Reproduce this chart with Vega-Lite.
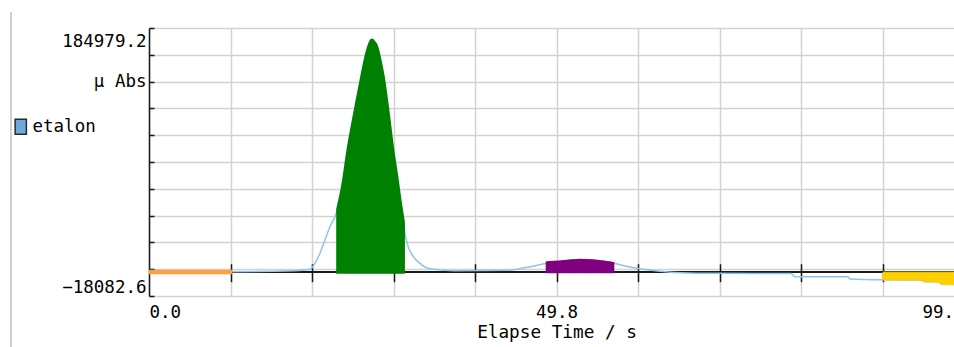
{
  "$schema": "https://vega.github.io/schema/vega-lite/v6.json",
  "autosize": {"type": "none"},
  "padding": {"left": 149, "top": 28, "right": 0, "bottom": 51},
  "width": 805,
  "height": 268,
  "background": "white",
  "config": {"view": {"stroke": null}},
  "datasets": {
    "trace": [
      {"t": 0.00, "v": 326, "series": "etalon"},
      {"t": 9.90, "v": 326, "series": "etalon"},
      {"t": 17.84, "v": 1084, "series": "etalon"},
      {"t": 19.67, "v": 2144, "series": "etalon"},
      {"t": 20.28, "v": 6690, "series": "etalon"},
      {"t": 20.89, "v": 14267, "series": "etalon"},
      {"t": 21.50, "v": 24345, "series": "etalon"},
      {"t": 22.11, "v": 34422, "series": "etalon"},
      {"t": 22.72, "v": 41999, "series": "etalon"},
      {"t": 23.06, "v": 47833, "series": "etalon"},
      {"t": 23.74, "v": 68291, "series": "etalon"},
      {"t": 24.31, "v": 92538, "series": "etalon"},
      {"t": 24.97, "v": 115269, "series": "etalon"},
      {"t": 25.48, "v": 131938, "series": "etalon"},
      {"t": 25.99, "v": 148077, "series": "etalon"},
      {"t": 26.60, "v": 165807, "series": "etalon"},
      {"t": 26.95, "v": 172854, "series": "etalon"},
      {"t": 27.22, "v": 175885, "series": "etalon"},
      {"t": 27.50, "v": 174370, "series": "etalon"},
      {"t": 27.83, "v": 170808, "series": "etalon"},
      {"t": 28.23, "v": 160731, "series": "etalon"},
      {"t": 28.63, "v": 148077, "series": "etalon"},
      {"t": 29.24, "v": 120346, "series": "etalon"},
      {"t": 29.85, "v": 90037, "series": "etalon"},
      {"t": 30.31, "v": 71322, "series": "etalon"},
      {"t": 30.67, "v": 54653, "series": "etalon"},
      {"t": 31.09, "v": 37983, "series": "etalon"},
      {"t": 31.28, "v": 29422, "series": "etalon"},
      {"t": 31.68, "v": 19268, "series": "etalon"},
      {"t": 32.29, "v": 11691, "series": "etalon"},
      {"t": 33.11, "v": 6690, "series": "etalon"},
      {"t": 34.13, "v": 2902, "series": "etalon"},
      {"t": 35.77, "v": 1614, "series": "etalon"},
      {"t": 37.39, "v": 1084, "series": "etalon"},
      {"t": 43.63, "v": 1387, "series": "etalon"},
      {"t": 46.56, "v": 4114, "series": "etalon"},
      {"t": 48.60, "v": 6690, "series": "etalon"},
      {"t": 49.86, "v": 7675, "series": "etalon"},
      {"t": 51.45, "v": 9191, "series": "etalon"},
      {"t": 52.67, "v": 9418, "series": "etalon"},
      {"t": 54.14, "v": 8964, "series": "etalon"},
      {"t": 55.36, "v": 7903, "series": "etalon"},
      {"t": 56.74, "v": 6690, "series": "etalon"},
      {"t": 58.17, "v": 4645, "series": "etalon"},
      {"t": 59.59, "v": 2902, "series": "etalon"},
      {"t": 62.45, "v": 629, "series": "etalon"},
      {"t": 64.89, "v": -432, "series": "etalon"},
      {"t": 69.53, "v": -886, "series": "etalon"},
      {"t": 78.45, "v": -1038, "series": "etalon"},
      {"t": 78.94, "v": -3463, "series": "etalon"},
      {"t": 85.42, "v": -3463, "series": "etalon"},
      {"t": 85.66, "v": -5205, "series": "etalon"},
      {"t": 89.69, "v": -5812, "series": "etalon"},
      {"t": 94.22, "v": -5963, "series": "etalon"},
      {"t": 94.83, "v": -7251, "series": "etalon"},
      {"t": 96.42, "v": -7478, "series": "etalon"},
      {"t": 96.91, "v": -9221, "series": "etalon"},
      {"t": 98.37, "v": -9373, "series": "etalon"}
    ],
    "peaks": [
      {"t": 0.00, "v": 326, "peak": "A"},
      {"t": 9.90, "v": 326, "peak": "A"},
      {"t": 23.06, "v": 47833, "peak": "B"},
      {"t": 23.74, "v": 68291, "peak": "B"},
      {"t": 24.31, "v": 92538, "peak": "B"},
      {"t": 24.97, "v": 115269, "peak": "B"},
      {"t": 25.48, "v": 131938, "peak": "B"},
      {"t": 25.99, "v": 148077, "peak": "B"},
      {"t": 26.60, "v": 165807, "peak": "B"},
      {"t": 26.95, "v": 172854, "peak": "B"},
      {"t": 27.22, "v": 175885, "peak": "B"},
      {"t": 27.50, "v": 174370, "peak": "B"},
      {"t": 27.83, "v": 170808, "peak": "B"},
      {"t": 28.23, "v": 160731, "peak": "B"},
      {"t": 28.63, "v": 148077, "peak": "B"},
      {"t": 29.24, "v": 120346, "peak": "B"},
      {"t": 29.85, "v": 90037, "peak": "B"},
      {"t": 30.31, "v": 71322, "peak": "B"},
      {"t": 30.67, "v": 54653, "peak": "B"},
      {"t": 31.09, "v": 37983, "peak": "B"},
      {"t": 48.60, "v": 7400, "peak": "C"},
      {"t": 51.20, "v": 8600, "peak": "C"},
      {"t": 52.67, "v": 9418, "peak": "C"},
      {"t": 54.14, "v": 9100, "peak": "C"},
      {"t": 55.36, "v": 8200, "peak": "C"},
      {"t": 56.74, "v": 7000, "peak": "C"},
      {"t": 89.69, "v": -5812, "peak": "D"},
      {"t": 94.22, "v": -5963, "peak": "D"},
      {"t": 94.83, "v": -7251, "peak": "D"},
      {"t": 96.42, "v": -7478, "peak": "D"},
      {"t": 96.91, "v": -9221, "peak": "D"},
      {"t": 98.37, "v": -9373, "peak": "D"}
    ]
  },
  "resolve": {"axis": {"x": "independent", "y": "independent"}},
  "layer": [
    {
      "data": {"name": "trace"},
      "mark": {"type": "rule", "color": "#d0d0d0", "strokeWidth": 1.5, "clip": false},
      "encoding": {
        "x": {"datum": -16.86, "type": "quantitative", "axis": null},
        "y": {"datum": 197100, "type": "quantitative", "axis": null},
        "y2": {"datum": -56730}
      }
    },
    {
      "data": {"name": "trace"},
      "mark": {"type": "rule", "color": "#1a1a1a", "strokeWidth": 1.5},
      "encoding": {
        "x": {
          "datum": 0,
          "type": "quantitative",
          "scale": {"domain": [0, 98.37], "nice": false, "zero": false},
          "axis": {
            "orient": "top",
            "offset": -253.7,
            "values": [9.96, 19.92, 29.88, 39.84, 49.8, 59.76, 69.72, 79.68, 89.64],
            "tickSize": 18,
            "tickColor": "#1a1a1a",
            "tickWidth": 1.5,
            "domain": false,
            "labels": false,
            "grid": false,
            "title": null,
            "zindex": 0
          }
        },
        "x2": {"datum": 98.37},
        "y": {"datum": 0, "type": "quantitative", "axis": null}
      }
    },
    {
      "data": {"name": "trace"},
      "mark": {"type": "line", "strokeWidth": 1.5, "clip": true, "interpolate": "monotone", "color": "#8cc4ec"},
      "encoding": {
        "x": {
          "field": "t",
          "type": "quantitative",
          "scale": {"domain": [0, 98.37], "nice": false, "zero": false},
          "axis": {
            "values": [0, 9.96, 19.92, 29.88, 39.84, 49.8, 59.76, 69.72, 79.68, 89.64, 94.46],
            "labelExpr": "datum.value == 0 ? '0.0' : abs(datum.value - 49.8) < 0.01 ? '49.8' : datum.value > 94 ? '99.6' : ''",
            "labelAlign": {"condition": {"test": "datum.value == 0 || datum.value > 94", "value": "left"}, "value": "center"},
            "labelBaseline": "alphabetic",
            "labelPadding": 21,
            "labelFont": "DejaVu Sans Mono",
            "labelFontSize": 17.5,
            "labelColor": "#000000",
            "labelOverlap": false,
            "labelBound": false,
            "labelFlush": false,
            "ticks": false,
            "domain": false,
            "grid": true,
            "gridColor": "#d2d2d2",
            "gridWidth": 1.5,
            "gridOpacity": {"condition": {"test": "datum.value > 94", "value": 0}, "value": 1},
            "title": "Elapse Time / s",
            "titleFont": "DejaVu Sans Mono",
            "titleFontSize": 17.7,
            "titleFontWeight": "normal",
            "titleColor": "#000000",
            "titleAlign": "center",
            "titleBaseline": "alphabetic",
            "titleX": 407.5,
            "titleY": 41,
            "zindex": 0
          }
        },
        "y": {
          "field": "v",
          "type": "quantitative",
          "scale": {"domain": [-18082.6, 184979.2], "nice": false, "zero": false},
          "axis": {
            "values": [-18082.6, 2223.58, 22529.76, 42835.94, 63142.12, 83448.3, 103754.48, 124060.66, 144366.84, 164673.02, 184979.2],
            "labelExpr": "datum.value > 184000 ? '184979.2' : datum.value < -18000 ? '−18082.6' : abs(datum.value - 144366.84) < 1 ? 'μ Abs\u00a0' : ''",
            "labelFlush": true,
            "labelOffset": {"condition": {"test": "datum.value > 184000", "value": 4}, "value": 0},
            "labelOverlap": false,
            "labelBound": false,
            "labelFont": "DejaVu Sans Mono",
            "labelFontSize": 17.5,
            "labelColor": "#000000",
            "labelPadding": 8,
            "tickSize": -5,
            "tickColor": "#1a1a1a",
            "tickWidth": 1.5,
            "domainColor": "#1a1a1a",
            "domainWidth": 1.5,
            "grid": true,
            "gridColor": "#d2d2d2",
            "gridWidth": 1.5,
            "title": null,
            "zindex": 0
          }
        }
      }
    },
    {
      "data": {"name": "trace"},
      "mark": {"type": "point", "filled": true, "opacity": 0, "clip": true},
      "encoding": {
        "x": {"field": "t", "type": "quantitative", "axis": null},
        "y": {"field": "v", "type": "quantitative", "axis": null},
        "color": {
          "field": "series",
          "type": "nominal",
          "scale": {"domain": ["etalon"], "range": ["#6fa8dc"]},
          "legend": {
            "title": null,
            "orient": "none",
            "legendX": -137,
            "legendY": 90,
            "padding": 0,
            "symbolType": "M-0.75,-1L0.75,-1L0.75,1L-0.75,1Z",
            "symbolSize": 225,
            "symbolOpacity": 1,
            "symbolStrokeColor": "#2b2b2b",
            "symbolStrokeWidth": 1.5,
            "labelFont": "DejaVu Sans Mono",
            "labelFontSize": 17.5,
            "labelColor": "#000000",
            "labelOffset": 3
          }
        }
      }
    },
    {
      "data": {"name": "peaks"},
      "mark": {"type": "area", "clip": true, "interpolate": "monotone"},
      "encoding": {
        "x": {"field": "t", "type": "quantitative", "axis": null},
        "y": {"field": "v", "type": "quantitative", "axis": null},
        "y2": {"datum": 0},
        "detail": {"field": "peak"},
        "fill": {"field": "peak", "type": "nominal", "scale": {"domain": ["A", "B", "C", "D"], "range": ["#ffa040", "#008000", "#800080", "#ffd000"]}, "legend": null},
        "stroke": {"field": "peak", "type": "nominal", "scale": {"domain": ["A", "B", "C", "D"], "range": ["#ffa040", "#008000", "#800080", "#ffd000"]}, "legend": null},
        "strokeWidth": {"field": "peak", "type": "nominal", "scale": {"domain": ["A", "B", "C", "D"], "range": [4, 1, 1, 1]}, "legend": null}
      }
    }
  ]
}
